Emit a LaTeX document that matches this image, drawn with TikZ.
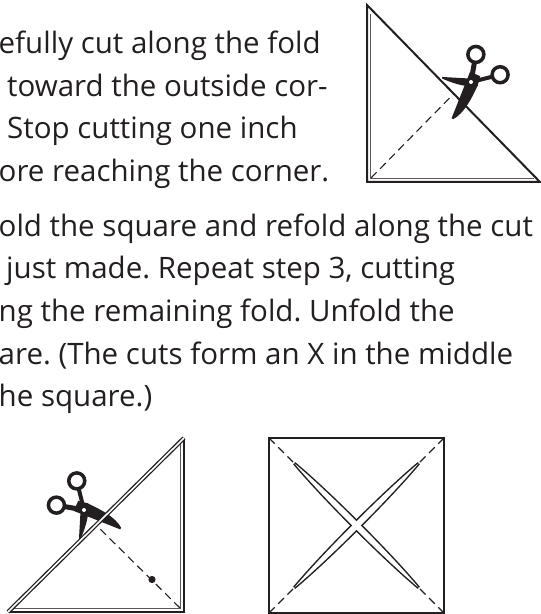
\documentclass[tikz,border=0pt]{standalone}
\usepackage{fontspec}
\setmainfont{Open Sans}
\usepackage{tikz}

\definecolor{ink}{HTML}{231F20}
\frenchspacing

\tikzset{
  txt/.style={anchor=base west, inner sep=0pt, text=ink, font=\fontsize{29.5}{42.7}\selectfont},
  edge/.style={draw=ink, line width=2pt},
  layer/.style={draw=ink!75, line width=1pt},
  fold/.style={draw=ink, line width=1.1pt, dash pattern=on 8pt off 5pt},
  scissors/.pic={
    % short blade and its handle
    \fill[ink, rotate=176] (-7,-3.5) -- (29,-3) -- (29,-1.5) .. controls (19,2.5) and (8,4.5) .. (0,4.5) -- (-7,4) -- cycle;
    \draw[ink, line width=4pt] (0,0) -- (14:21);
    \draw[ink, line width=3.5pt] (14:30) circle (8);
    % long blade and its handle
    \fill[ink, rotate=246] (-9,-5) -- (41,-3) -- (41,-1) .. controls (32,6) and (16,7.5) .. (0,7.5) -- (-9,6) -- cycle;
    \draw[ink, line width=5pt] (0,0) -- (80:19);
    \draw[ink, line width=3.5pt] (80:28) circle (8);
    % rivet
    \fill[white] (0,0) circle (2);
  }
}

\begin{document}
\begin{tikzpicture}[x=1pt, y=1pt]
  \useasboundingbox (0,0) rectangle (541,614);

  % step 3
  \node[txt] (s3a) at (-1.5,560) {efully cut along the fold};
  \node[txt] (s3b) at (7,517) {toward the outside cor-};
  \node[txt] (s3c) at (7,475) {Stop cutting one inch};
  \node[txt] (s3d) at (-1.5,432) {ore reaching the corner.};

  % step 4
  \node[txt] (s4a) at (-1.5,377) {old the square and refold along the cut};
  \node[txt] (s4b) at (6,335) {just made. Repeat step 3, cutting};
  \node[txt] (s4c) at (-1.5,292) {ng the remaining fold. Unfold the};
  \node[txt] (s4d) at (-1.5,249) {are. (The cuts form an X in the middle};
  \node[txt] (s4e) at (-1.5,207) {he square.)};

  % folded triangle, cut along the fold
  \coordinate (a1) at (367,609);
  \coordinate (b1) at (367,432);
  \coordinate (c1) at (540,432);
  \coordinate (m1) at (454,520.5);
  \draw[layer] (370.5,600) -- (370.5,435.5) -- (534,435.5);
  \draw[edge] (a1) -- (b1) -- (c1) -- cycle;
  \draw[fold] (371,436) -- (m1);
  \pic at (471,532) {scissors};

  % refolded triangle, stop mark on the remaining fold
  \coordinate (d3) at (8,2);
  \coordinate (e3) at (184,2);
  \coordinate (f3) at (184,176);
  \coordinate (m3) at (96,89);
  \draw[fold] (180,6) -- (m3);
  \fill[ink] (152,34.5) circle (3.6);
  \pic[rotate=90] at (84,104) {scissors};
  \draw[layer] (180.5,170) -- (180.5,5.5) -- (14,5.5);
  \draw[edge] (f3) -- (e3) -- (d3);
  \draw[ink, line width=1.3pt, double=white, double distance=1.6pt] (d3) -- (f3);

  % unfolded square with the X cut
  \coordinate (p4) at (269,1);
  \coordinate (q4) at (444,176);
  \coordinate (o4) at (356.5,88.5);
  \draw[edge] (p4) rectangle (q4);
  \foreach \a in {45,135,225,315}
    \draw[fold] (o4) ++(\a:123.7) -- ++({\a+180}:36);
  \foreach \a in {45,-45}
    \draw[ink, line width=3pt, shift={(o4)}, rotate=\a] (-88,0) .. controls (-44,4) and (44,4) .. (88,0) .. controls (44,-4) and (-44,-4) .. cycle;
  \foreach \a in {45,-45}
    \fill[white, shift={(o4)}, rotate=\a] (-88,0) .. controls (-44,4) and (44,4) .. (88,0) .. controls (44,-4) and (-44,-4) .. cycle;
\end{tikzpicture}
\end{document}
